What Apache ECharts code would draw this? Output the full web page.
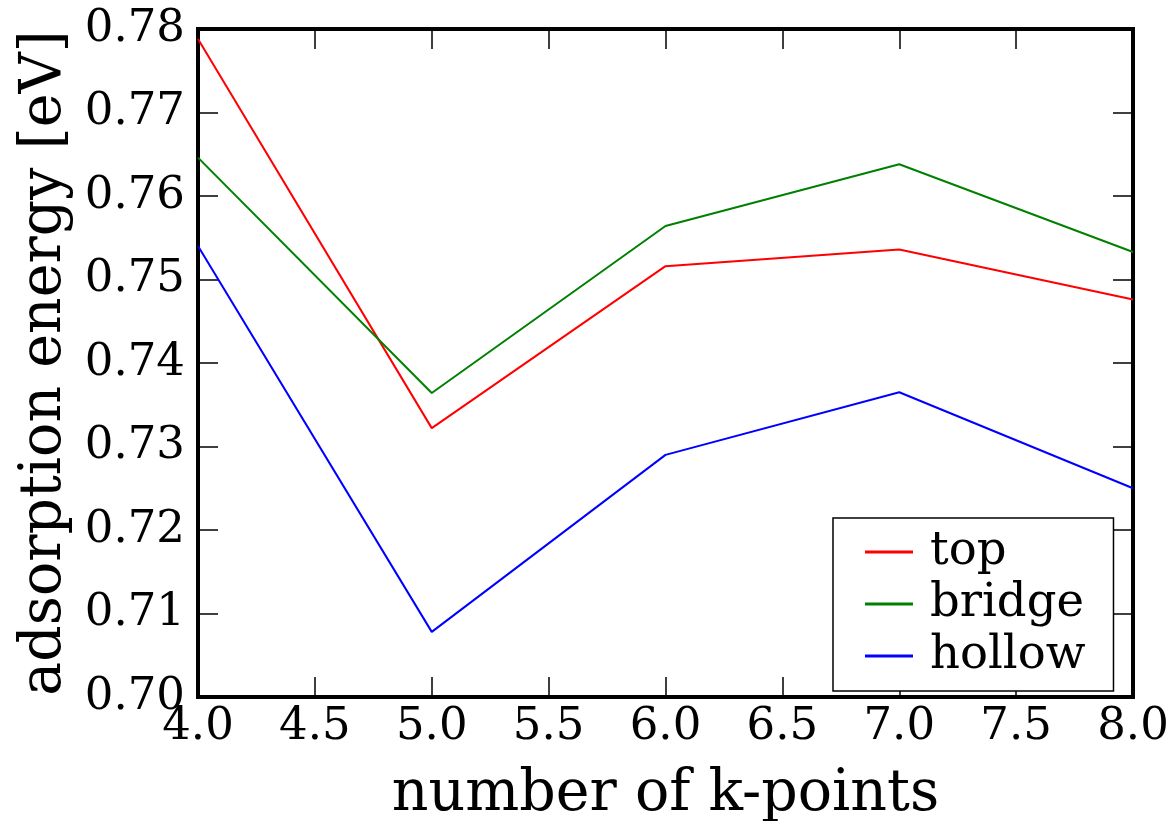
<!DOCTYPE html>
<html><head><meta charset="utf-8">
<script src="https://cdn.jsdelivr.net/npm/echarts@6/dist/echarts.min.js"></script>
<style>html,body{margin:0;padding:0;background:#fff}#c{width:1172px;height:821px}</style>
</head><body><div id="c"></div>
<script>
const kpoints = [4, 5, 6, 7, 8];
const topE = [0.7788, 0.7322, 0.7516, 0.7536, 0.7476];
const bridgeE = [0.7646, 0.7364, 0.7564, 0.7638, 0.7533];
const hollowE = [0.7540, 0.7078, 0.7290, 0.7365, 0.7250];
const seriesNames = ['top', 'bridge', 'hollow'];
const xTitle = 'number of k-points';
const yTitle = 'adsorption energy [eV]';

const FONT = 'DejaVu Serif';
const chart = echarts.init(document.getElementById('c'), null, {renderer: 'canvas'});
const pairs = v => kpoints.map((k, i) => [k, v[i]]);
const tick = {show: true, inside: true, length: 20, lineStyle: {color: '#000', width: 1.5}};
const xBase = {type: 'value', min: 4, max: 8, interval: 0.5, splitLine: {show: false},
  axisLine: {show: false}, axisTick: tick};
const yBase = {type: 'value', min: 0.70, max: 0.78, interval: 0.01, splitLine: {show: false},
  axisLine: {show: false}, axisTick: tick};
chart.setOption({
  animation: false,
  backgroundColor: '#fff',
  grid: {left: 198, top: 29, right: 39, bottom: 124, containLabel: false, outerBoundsMode: 'none',
    show: true, borderColor: '#000', borderWidth: 4, backgroundColor: 'transparent'},
  xAxis: [
    Object.assign({}, xBase, {position: 'bottom', name: xTitle, nameLocation: 'middle', nameGap: 70,
      nameTextStyle: {fontFamily: FONT, fontSize: 57, color: '#000'},
      axisLabel: {fontFamily: FONT, fontSize: 45, color: '#000', margin: 8, formatter: v => v.toFixed(1)}}),
    Object.assign({}, xBase, {position: 'top', axisLabel: {show: false}})
  ],
  yAxis: [
    Object.assign({}, yBase, {position: 'left', name: yTitle, nameLocation: 'middle', nameGap: 124,
      nameTextStyle: {fontFamily: FONT, fontSize: 57, color: '#000'},
      axisLabel: {fontFamily: FONT, fontSize: 45, color: '#000', margin: 13, formatter: v => v.toFixed(2)}}),
    Object.assign({}, yBase, {position: 'right', axisLabel: {show: false}})
  ],
  legend: {
    left: 833, top: 518, orient: 'vertical',
    data: seriesNames,
    backgroundColor: '#fff', borderColor: '#000', borderWidth: 1.5, borderRadius: 0,
    padding: [10.5, 28, 11.5, 32], itemGap: 5, itemWidth: 48, itemHeight: 3, icon: 'rect',
    textStyle: {fontFamily: FONT, fontSize: 46.5, color: '#000', lineHeight: 45, padding: [0, 0, 0, 12]}
  },
  series: [
    {name: seriesNames[0], type: 'line', data: pairs(topE), color: '#ff0000'},
    {name: seriesNames[1], type: 'line', data: pairs(bridgeE), color: '#008000'},
    {name: seriesNames[2], type: 'line', data: pairs(hollowE), color: '#0000ff'}
  ].map(s => Object.assign(s, {showSymbol: false, symbol: 'none', lineStyle: {width: 2}, z: 1}))
});
</script></body></html>
